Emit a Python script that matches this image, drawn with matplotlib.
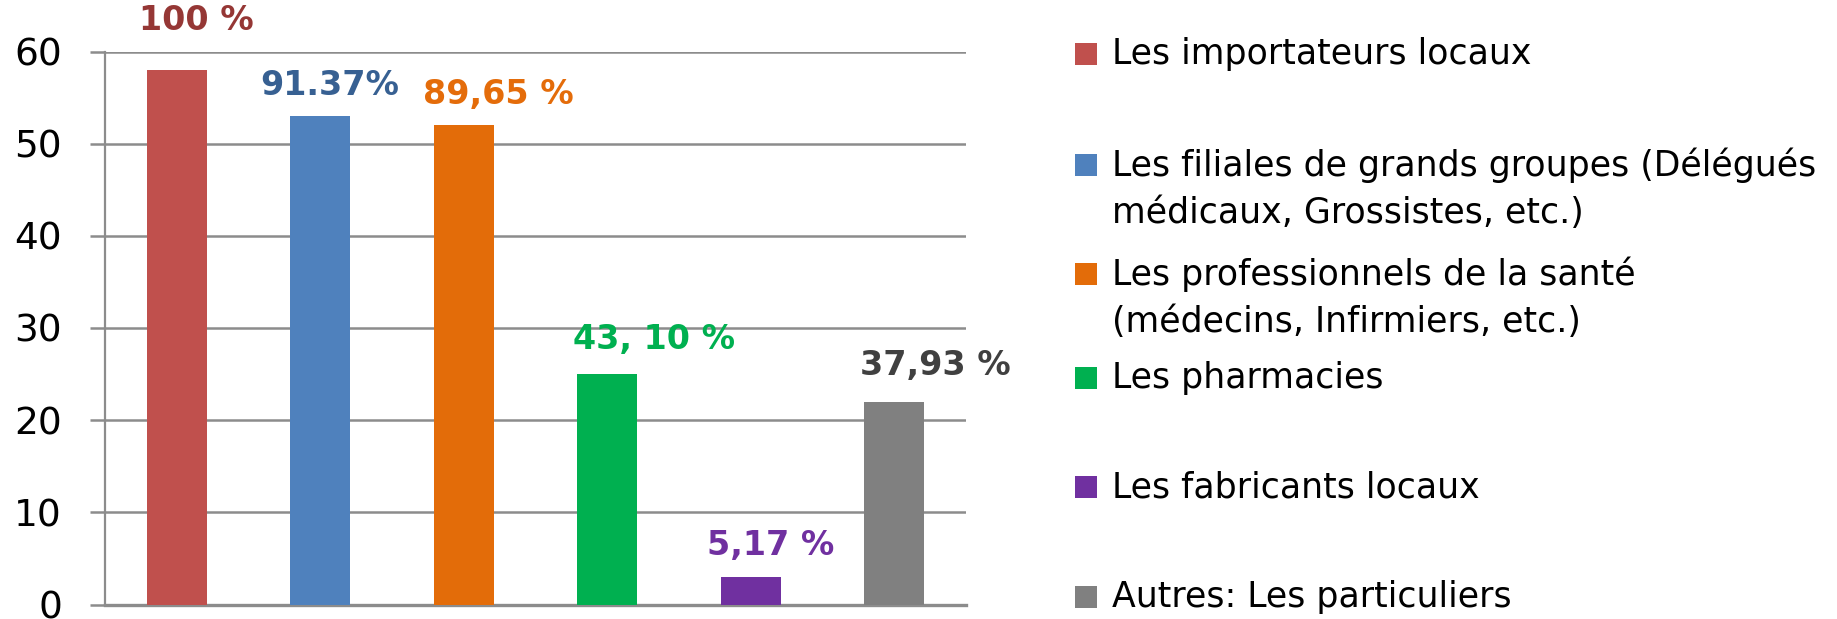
import matplotlib
matplotlib.use("Agg")
import matplotlib.pyplot as plt
from matplotlib.patches import Rectangle

categories = [
    "Les importateurs locaux",
    "Les filiales de grands groupes (Délégués\nmédicaux, Grossistes, etc.)",
    "Les professionnels de la santé\n(médecins, Infirmiers, etc.)",
    "Les pharmacies",
    "Les fabricants locaux",
    "Autres: Les particuliers",
]
values = [58, 53, 52, 25, 3, 22]
value_labels = ["100 %", "91.37%", "89,65 %", "43, 10 %", "5,17 %", "37,93 %"]
yticks = [0, 10, 20, 30, 40, 50, 60]

bar_colors = ["#C0504D", "#4F81BD", "#E36C09", "#00B050", "#7030A0", "#808080"]
label_colors = ["#953735", "#376092", "#E46C0A", "#00B050", "#7030A0", "#404040"]
label_dx = [20, 9, 35, 47, 20, 41]      # pixels
label_dy = [49, 31, 31, 35, 31, 36]     # pixels
legend_y = [54, 165, 274, 378, 487, 597]  # pixel rows from top (first line)
line_pitch = 48

W, H = 1837, 619
fig = plt.figure(figsize=(W / 100, H / 100), dpi=100)
ax = fig.add_axes([105 / W, (H - 604.5) / H, (966 - 105) / W, (604.5 - 51.5) / H])

x = list(range(len(values)))
ax.bar(x, values, width=0.42, color=bar_colors, zorder=3)
ax.set_xlim(-0.5, len(values) - 0.5)
ax.set_ylim(0, 60)
ax.set_yticks(yticks)
ax.set_xticks([])
ax.grid(axis="y", color="#8C8C8C", linewidth=1.8, zorder=0)
for s in ["top", "right"]:
    ax.spines[s].set_visible(False)
ax.spines["left"].set_color("#8C8C8C")
ax.spines["left"].set_linewidth(1.6)
ax.spines["bottom"].set_color("#8C8C8C")
ax.spines["bottom"].set_linewidth(2.4)
ax.tick_params(axis="y", length=11, width=1.8, color="#8C8C8C", pad=20,
               labelsize=27, labelcolor="black")

for i, (v, lab) in enumerate(zip(values, value_labels)):
    ax.annotate(lab, (i, v), xytext=(label_dx[i], label_dy[i]),
                textcoords="offset pixels", ha="center", va="center",
                fontsize=24, fontweight="bold", color=label_colors[i],
                annotation_clip=False)

for i, cat in enumerate(categories):
    yc = legend_y[i]
    fig.patches.append(Rectangle((1075 / W, 1 - (yc + 11) / H), 22 / W, 22 / H,
                                 transform=fig.transFigure, facecolor=bar_colors[i],
                                 edgecolor="none"))
    for j, line in enumerate(cat.split("\n")):
        fig.text(1112 / W, 1 - (yc + j * line_pitch) / H, line, ha="left",
                 va="center", fontsize=25, color="black")

fig.savefig("out.png", dpi=100)
